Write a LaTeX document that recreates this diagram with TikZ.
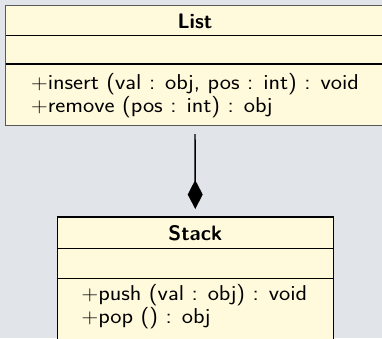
\documentclass[tikz,border=0pt]{standalone}
\usetikzlibrary{arrows.meta}
\definecolor{canvas}{HTML}{E1E5EA}
\definecolor{classfill}{HTML}{FFFADC}
\newcommand{\opline}[1]{\scalebox{1.11}[1]{#1}}
\tikzset{
  classbox/.style={draw=#1, line width=1.4pt, fill=classfill},
  divider/.style={draw=black, line width=1.2pt},
  title/.style={font=\sffamily\bfseries\fontsize{21}{25}\selectfont, inner sep=0pt},
  op/.style={font=\sffamily\fontsize{21.5}{23}\selectfont, inner sep=0pt, anchor=base west},
}
\begin{document}
\begin{tikzpicture}[x=1pt, y=-1pt]
  \useasboundingbox (0,0) rectangle (382,338);
  \fill[canvas] (0,0) rectangle (382,338);

  % class List
  \path[classbox=black!65] (5.5,5.5) rectangle (384.5,125.5);
  \draw[divider] (5.5,35.5) -- (384.5,35.5);
  \draw[divider] (5.5,64) -- (384.5,64);
  \node[title] (listname) at (195,21.5) {List};
  \node[op] (listop1) at (31,89.5) {\opline{$+$insert (val : obj, pos : int) : void}};
  \node[op] (listop2) at (31,112.2) {\opline{$+$remove (pos : int) : obj}};
  \coordinate (listbot) at (195,125.5);

  % class Stack
  \path[classbox=black] (57.3,217) rectangle (333.3,341);
  \draw[divider] (57.3,248.7) -- (333.3,248.7);
  \draw[divider] (57.3,278.7) -- (333.3,278.7);
  \node[title] (stackname) at (195.3,233.3) {Stack};
  \node[op] (stackop1) at (81.5,300.5) {\opline{$+$push (val : obj) : void}};
  \node[op] (stackop2) at (81.5,323) {\opline{$+$pop () : obj}};
  \coordinate (stacktop) at (195.3,217);

  % composition: filled diamond at the Stack end
  \draw[line width=1.4pt, shorten <=8.5pt, shorten >=8pt,
        -{Turned Square[length=29pt, width=15pt, line width=0pt]}]
    (listbot) -- (stacktop);
\end{tikzpicture}
\end{document}
